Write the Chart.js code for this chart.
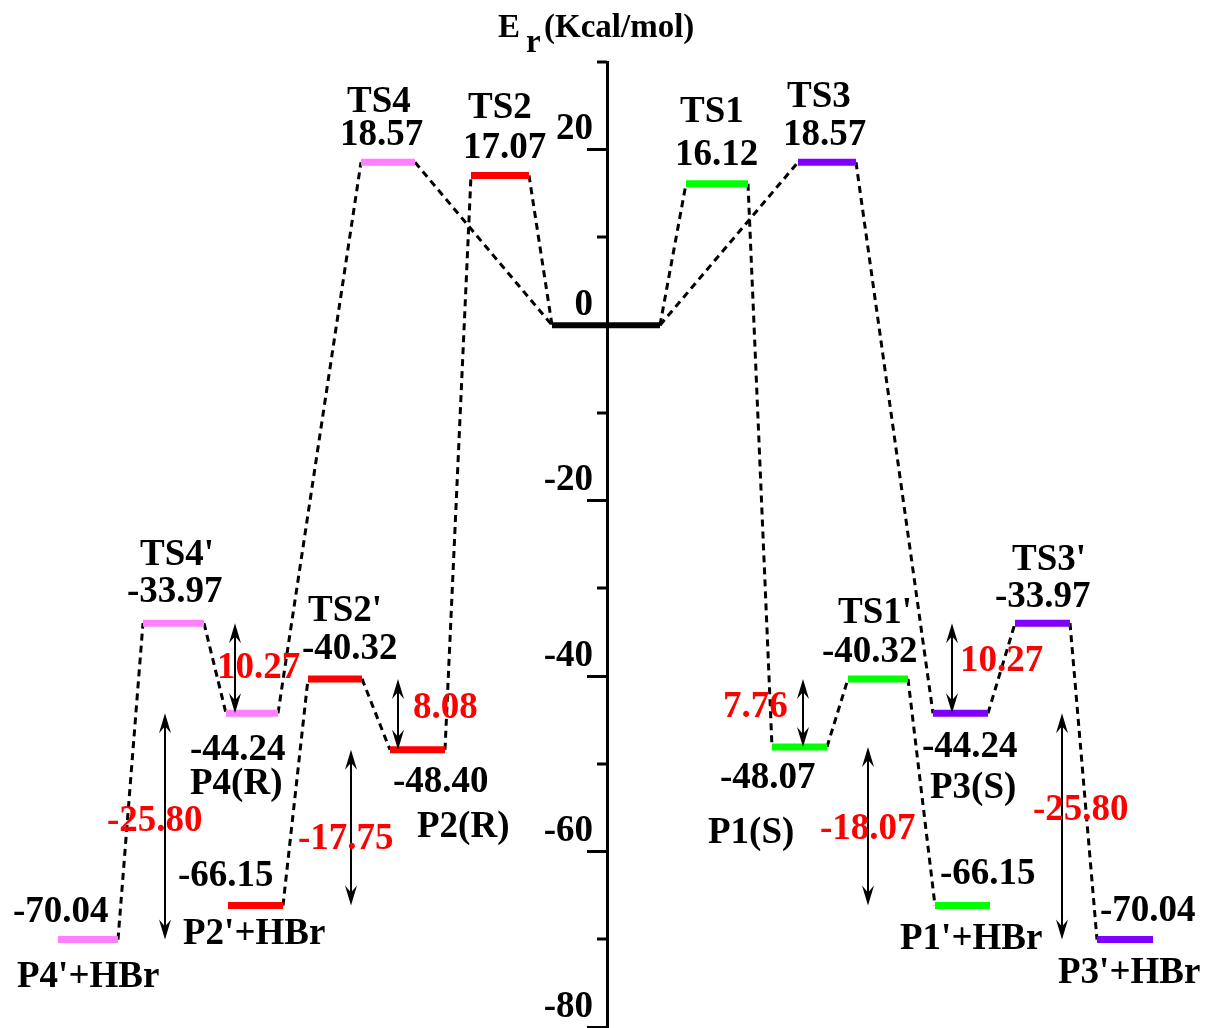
<!DOCTYPE html>
<html>
<head>
<meta charset="utf-8">
<title>Energy profile</title>
<script src="https://cdn.jsdelivr.net/npm/chart.js@4.4.1/dist/chart.umd.min.js"></script>
<style>
  html, body { margin: 0; padding: 0; background: #fff; overflow: hidden; }
  canvas { display: block; }
</style>
</head>
<body>
<canvas id="energyChart" width="1208" height="1028"></canvas>
<script>
// Species on the profile
const species = ["P4'+HBr", "TS4'", 'P4(R)', 'TS4', "P2'+HBr", "TS2'", 'P2(R)', 'TS2', 'R',
                 'TS1', 'TS3', 'P1(S)', "TS1'", "P1'+HBr", 'P3(S)', "TS3'", "P3'+HBr"];
// Relative energies (kcal/mol)
const energies = [-70.04, -33.97, -44.24, 18.57, -66.15, -40.32, -48.40, 17.07, 0,
                  16.12, 18.57, -48.07, -40.32, -66.15, -44.24, -33.97, -70.04];
// Pathway of each species
const pathOf = ['4', '4', '4', '4', '2', '2', '2', '2', '0', '1', '3', '1', '1', '1', '3', '3', '3'];

// Reaction paths in drawing order (left to right)
const path4 = ["P4'+HBr", "TS4'", 'P4(R)', 'TS4', 'R'];
const path2 = ["P2'+HBr", "TS2'", 'P2(R)', 'TS2', 'R'];
const path1 = ['R', 'TS1', 'P1(S)', "TS1'", "P1'+HBr"];
const path3 = ['R', 'TS3', 'P3(S)', "TS3'", "P3'+HBr"];

// Energy gaps marked with double arrows
const gapLabels = ['10.27', '-25.80', '8.08', '-17.75', '7.76', '-18.07', '10.27', '-25.80'];
const gapTop = [-33.97, -44.24, -40.32, -48.40, -40.32, -48.07, -33.97, -44.24];
const gapBottom = [-44.24, -70.04, -48.40, -66.15, -48.07, -66.15, -44.24, -70.04];

// y axis ticks
const majorTicks = [20, 0, -20, -40, -60, -80];
const minorTicks = [30, 10, -10, -30, -50, -70];

// ---- layout (reaction coordinate positions, label offsets) ----
const levelSpan = {
    "P4'+HBr": [5.8, 11.8], "TS4'": [14.3, 20.4], 'P4(R)': [22.6, 27.8], 'TS4': [36.1, 41.5],
    "P2'+HBr": [22.8, 28.3], "TS2'": [30.8, 36.2], 'P2(R)': [39.0, 44.5], 'TS2': [47.1, 52.9],
    'R': [55.2, 66.0],
    'TS1': [68.6, 74.8], 'TS3': [79.8, 85.6], 'P1(S)': [77.2, 82.7], "TS1'": [84.8, 90.8],
    "P1'+HBr": [93.5, 99.0], 'P3(S)': [93.3, 98.8], "TS3'": [101.5, 107.0], "P3'+HBr": [109.7, 115.3]
};
// [name x, name dy, value x, value dy] ; dy in px from the level
const labelPos = {
    "P4'+HBr": [1.7, 47, 1.3, -18], "TS4'": [14.0, -58, 12.7, -21], 'P4(R)': [19.0, 81, 19.0, 47],
    'TS4': [34.7, -50, 34.0, -17], "P2'+HBr": [18.3, 39, 17.8, -19], "TS2'": [30.8, -58, 30.2, -20],
    'P2(R)': [41.7, 87, 39.3, 42], 'TS2': [46.8, -57, 46.3, -17],
    'TS1': [68.0, -62, 67.5, -19], 'TS3': [78.7, -55, 78.3, -17], 'P1(S)': [70.8, 96, 72.0, 41],
    "TS1'": [83.8, -56, 82.2, -17], "P1'+HBr": [90.0, 44, 94.0, -21], 'P3(S)': [93.0, 85, 92.2, 44],
    "TS3'": [101.2, -53, 99.5, -16], "P3'+HBr": [105.8, 43, 110.0, -19]
};
const arrowX = [23.5, 16.5, 39.8, 35.1, 80.3, 86.8, 95.2, 106.2];
// [x, dy from arrow middle]
const gapLabelPos = [[21.7, 10], [10.7, 5], [41.3, 4], [29.8, 21], [72.3, 4], [82.0, 13], [96.0, 3], [103.3, -6]];

const AXIS_AT = 60.7;   // where the energy axis crosses the reaction coordinate
const pathColors = { '4': '#ff80ff', '2': '#ff0000', '0': '#000000', '1': '#00ff00', '3': '#8000ff' };
const FONT = '"Liberation Serif", "Times New Roman", serif';

function energyOf(name) {
    return energies[species.indexOf(name)];
}

// Build datasets
const datasets = [];

species.forEach((name, i) => {
    const span = levelSpan[name];
    datasets.push({
        data: [{ x: span[0], y: energies[i] }, { x: span[1], y: energies[i] }],
        borderColor: pathColors[pathOf[i]],
        borderWidth: name === 'R' ? 6 : 7,
        borderCapStyle: 'butt',
        showLine: true,
        pointRadius: 0,
        clip: false,
        order: 0
    });
});

[path4, path2, path1, path3].forEach(path => {
    for (let k = 0; k < path.length - 1; k++) {
        const a = path[k], b = path[k + 1];
        datasets.push({
            data: [{ x: levelSpan[a][1], y: energyOf(a) }, { x: levelSpan[b][0], y: energyOf(b) }],
            borderColor: '#000',
            borderWidth: 3,
            borderDash: [7, 5],
            showLine: true,
            pointRadius: 0,
            clip: false,
            order: 1
        });
    }
});

function arrowHead(ctx, x, y, dir) {
    ctx.beginPath();
    ctx.moveTo(x, y);
    ctx.lineTo(x - 6, y - dir * 20);
    ctx.lineTo(x, y - dir * 13);
    ctx.lineTo(x + 6, y - dir * 20);
    ctx.closePath();
    ctx.fill();
}

const annotations = {
    id: 'annotations',
    afterDraw(chart) {
        const ctx = chart.ctx;
        const xs = chart.scales.x;
        const ys = chart.scales.y;
        const axisX = xs.getPixelForValue(AXIS_AT);

        ctx.save();
        ctx.fillStyle = '#000';
        ctx.strokeStyle = '#000';

        // minor ticks
        ctx.lineWidth = 3;
        minorTicks.forEach(v => {
            const y = Math.round(ys.getPixelForValue(v));
            ctx.beginPath();
            ctx.moveTo(axisX - 10, y);
            ctx.lineTo(axisX, y);
            ctx.stroke();
        });

        // double arrows
        ctx.lineWidth = 2;
        gapLabels.forEach((t, i) => {
            const x = xs.getPixelForValue(arrowX[i]);
            const y1 = ys.getPixelForValue(gapTop[i]);
            const y2 = ys.getPixelForValue(gapBottom[i]);
            ctx.beginPath();
            ctx.moveTo(x, y1 + 12);
            ctx.lineTo(x, y2 - 12);
            ctx.stroke();
            arrowHead(ctx, x, y1, -1);
            arrowHead(ctx, x, y2, 1);
        });

        // species names and energies
        ctx.font = 'bold 37px ' + FONT;
        ctx.textAlign = 'left';
        ctx.textBaseline = 'alphabetic';
        species.forEach((name, i) => {
            const p = labelPos[name];
            if (!p) return;
            const y = ys.getPixelForValue(energies[i]);
            ctx.fillText(name, xs.getPixelForValue(p[0]), y + p[1]);
            ctx.fillText(energies[i].toFixed(2), xs.getPixelForValue(p[2]), y + p[3]);
        });

        // gap values
        ctx.fillStyle = '#ff0000';
        gapLabels.forEach((t, i) => {
            const mid = (ys.getPixelForValue(gapTop[i]) + ys.getPixelForValue(gapBottom[i])) / 2;
            ctx.fillText(t, xs.getPixelForValue(gapLabelPos[i][0]), mid + gapLabelPos[i][1]);
        });

        // axis title: E_r(Kcal/mol)
        ctx.fillStyle = '#000';
        ctx.font = 'bold 33px ' + FONT;
        const tx = axisX - 109;
        ctx.fillText('E', tx, 37);
        ctx.fillText('r', tx + 28, 52);
        ctx.fillText('(Kcal/mol)', tx + 46, 37);
        ctx.restore();
    }
};

new Chart(document.getElementById('energyChart'), {
    type: 'scatter',
    data: { datasets: datasets },
    options: {
        responsive: false,
        animation: false,
        devicePixelRatio: 1,
        // y axis box is 100px wide, so its line falls at x = 607
        layout: { padding: { top: 62, bottom: 1, left: 507, right: 0 } },
        plugins: { legend: { display: false }, tooltip: { enabled: false } },
        scales: {
            x: { type: 'linear', min: AXIS_AT, max: 120.8, display: false },
            y: {
                type: 'linear',
                min: -80,
                max: 30,
                position: 'left',
                afterFit: scale => {
                    scale.width = 100;
                    scale.paddingTop = 0;
                    scale.paddingBottom = 0;
                },
                ticks: {
                    stepSize: 10,
                    padding: -6,
                    labelOffset: -20,
                    color: '#000',
                    font: { family: FONT, size: 37, weight: 'bold' },
                    callback: v => (majorTicks.includes(v) ? String(v) : '')
                },
                grid: {
                    drawOnChartArea: false,
                    drawTicks: true,
                    tickLength: 20,
                    tickWidth: 3,
                    tickColor: c => (c.tick && majorTicks.includes(c.tick.value) ? '#000' : 'rgba(0,0,0,0)')
                },
                border: { display: true, color: '#000', width: 3 }
            }
        }
    },
    plugins: [annotations]
});
</script>
</body>
</html>
